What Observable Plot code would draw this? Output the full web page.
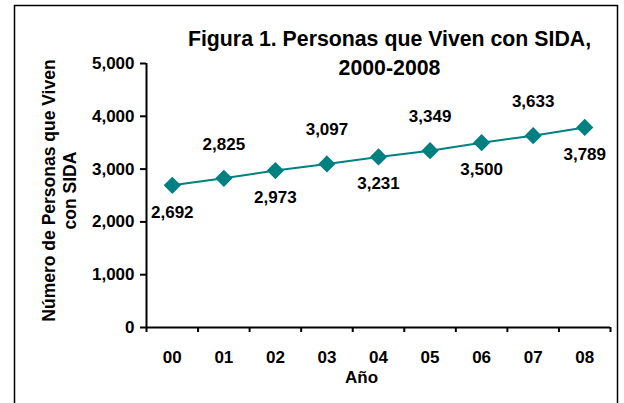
<!DOCTYPE html>
<html>
<head>
<meta charset="utf-8">
<script src="https://cdn.jsdelivr.net/npm/d3@7"></script>
<script src="https://cdn.jsdelivr.net/npm/@observablehq/plot@0.6"></script>
<style>
  html, body { margin: 0; padding: 0; background: #fff; }
  svg { display: block; font-family: "Liberation Sans", Arial, sans-serif; }
</style>
</head>
<body>
<div id="chart"></div>
<script>
const years = ["00", "01", "02", "03", "04", "05", "06", "07", "08"];
const personas = [2692, 2825, 2973, 3097, 3231, 3349, 3500, 3633, 3789];
const yTicks = [0, 1000, 2000, 3000, 4000, 5000];
const titleText = "Figura 1. Personas que Viven con SIDA,\n2000-2008";
const yLabel = "Número de Personas que Viven\ncon SIDA";
const xLabel = "Año";

const data = years.map((y, i) => ({i, year: y, value: personas[i]}));
const boundaries = d3.range(-0.5, years.length, 1);
const fmt = d3.format(",");
const teal = "#008080";

const chart = Plot.plot({
  width: 624,
  height: 403,
  marginLeft: 146,
  marginRight: 14,
  marginTop: 63,
  marginBottom: 76,
  style: {fontFamily: "'Liberation Sans', Arial, sans-serif", fontWeight: "bold", color: "#000", background: "#fff"},
  x: {type: "linear", domain: [-0.5, years.length - 0.5]},
  y: {domain: [0, 5000]},
  marks: [
    Plot.axisY({ticks: yTicks, tickFormat: fmt, tickSize: 6, tickPadding: 6, fontSize: 17, fontWeight: "bold", strokeWidth: 2, label: null}),
    Plot.axisX({ticks: boundaries, tickFormat: () => "", tickSize: 5, strokeWidth: 2, label: null}),
    Plot.axisX({ticks: d3.range(years.length), tickFormat: i => years[i], tickSize: 0, tickPadding: 23, fontSize: 17, fontWeight: "bold", label: null}),
    Plot.ruleX([-0.5], {stroke: "#000", strokeWidth: 2}),
    Plot.ruleY([0], {stroke: "#000", strokeWidth: 2}),
    Plot.line(data, {x: "i", y: "value", stroke: teal, strokeWidth: 2}),
    Plot.dot(data, {x: "i", y: "value", symbol: "diamond2", r: 6.8, fill: teal, stroke: teal}),
    Plot.text(data.filter(d => d.i % 2 === 0), {x: "i", y: "value", text: d => fmt(d.value), dy: 27, fontSize: 17, fontWeight: "bold", fill: "#000"}),
    Plot.text(data.filter(d => d.i % 2 === 1), {x: "i", y: "value", text: d => fmt(d.value), dy: -34, fontSize: 17, fontWeight: "bold", fill: "#000"}),
    Plot.text([titleText], {frameAnchor: "top", text: d => d, dx: 11, dy: -12, lineAnchor: "middle", lineHeight: 1.33, fontSize: 21.3, fontWeight: "bold", fill: "#000"}),
    Plot.text([yLabel], {frameAnchor: "left", textAnchor: "middle", text: d => d, rotate: -90, dx: -88, dy: -5, lineAnchor: "middle", lineHeight: 1.24, fontSize: 17.5, fontWeight: "bold", fill: "#000"}),
    Plot.text([xLabel], {frameAnchor: "bottom", text: d => d, dx: -17, dy: 50, lineAnchor: "middle", fontSize: 17, fontWeight: "bold", fill: "#000"})
  ]
});

d3.select(chart).append("rect")
  .attr("x", 14.5).attr("y", 5.5).attr("width", 603).attr("height", 420)
  .attr("fill", "none").attr("stroke", "#000").attr("stroke-width", 1.5);

document.getElementById("chart").appendChild(chart);
</script>
</body>
</html>
